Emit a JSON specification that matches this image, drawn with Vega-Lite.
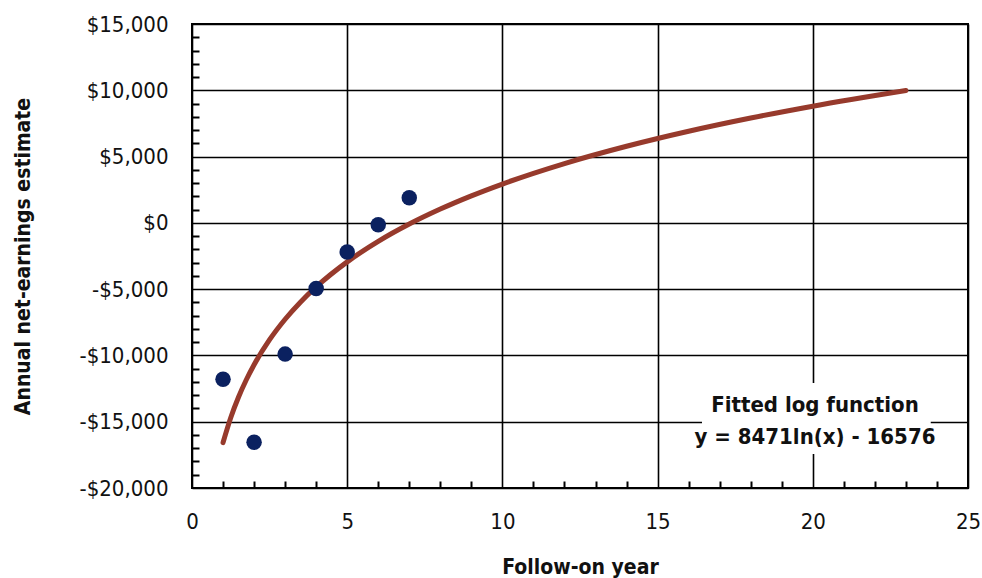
{
  "$schema": "https://vega.github.io/schema/vega-lite/v6.json",
  "width": 776,
  "height": 464,
  "autosize": {"type": "none"},
  "padding": {"left": 192, "top": 24, "right": 14, "bottom": 90},
  "background": "white",
  "config": {
    "view": {"stroke": "#000", "strokeWidth": 2},
    "font": "DejaVu Sans Condensed",
    "axis": {"domain": false, "labelColor": "#111", "titleColor": "#111", "labelFlush": false}
  },
  "datasets": {
    "obs": [
      {"year": 1, "earn": -11800},
      {"year": 2, "earn": -16550},
      {"year": 3, "earn": -9900},
      {"year": 4, "earn": -4950},
      {"year": 5, "earn": -2200},
      {"year": 6, "earn": -150},
      {"year": 7, "earn": 1900}
    ],
    "fit": [
      {"year": 1, "earn": -16576},
      {"year": 1.25, "earn": -14686},
      {"year": 1.5, "earn": -13141},
      {"year": 1.75, "earn": -11836},
      {"year": 2, "earn": -10704},
      {"year": 2.5, "earn": -8814},
      {"year": 3, "earn": -7270},
      {"year": 3.5, "earn": -5964},
      {"year": 4, "earn": -4833},
      {"year": 5, "earn": -2943},
      {"year": 6, "earn": -1398},
      {"year": 7, "earn": -92},
      {"year": 8, "earn": 1039},
      {"year": 9, "earn": 2037},
      {"year": 10, "earn": 2929},
      {"year": 12, "earn": 4474},
      {"year": 14, "earn": 5779},
      {"year": 16, "earn": 6911},
      {"year": 18, "earn": 7908},
      {"year": 20, "earn": 8801},
      {"year": 23, "earn": 9985}
    ],
    "box": [
      {"x1": 16.43, "x2": 23.8, "y1": -12080, "y2": -17435}
    ],
    "note": [
      {"year": 20.07, "earn": -13739, "label": "Fitted log function"},
      {"year": 20.07, "earn": -16153, "label": "y = 8471ln(x) - 16576"}
    ]
  },
  "resolve": {"axis": {"x": "independent", "y": "independent"}},
  "layer": [
    {
      "data": {"name": "fit"},
      "mark": {"type": "line", "color": "#973a2c", "strokeWidth": 5, "interpolate": "monotone", "strokeCap": "round"},
      "encoding": {
        "x": {"field": "year", "type": "quantitative", "scale": {"domain": [0, 25], "nice": false},
          "axis": {"orient": "bottom", "values": [1,2,3,4,6,7,8,9,11,12,13,14,16,17,18,19,21,22,23,24], "labels": false, "grid": false, "title": null, "tickSize": -7, "tickWidth": 2, "tickColor": "#000"}},
        "y": {"field": "earn", "type": "quantitative", "scale": {"domain": [-20000, 15000], "nice": false, "zero": false},
          "axis": {"orient": "left", "values": [-19000,-18000,-17000,-16000,-14000,-13000,-12000,-11000,-9000,-8000,-7000,-6000,-4000,-3000,-2000,-1000,1000,2000,3000,4000,6000,7000,8000,9000,11000,12000,13000,14000], "labels": false, "grid": false, "title": null, "tickSize": -7, "tickWidth": 2, "tickColor": "#000"}}
      }
    },
    {
      "data": {"name": "obs"},
      "mark": {"type": "point", "filled": true, "color": "#0b2160", "size": 240, "opacity": 1},
      "encoding": {
        "x": {"field": "year", "type": "quantitative",
          "axis": {"orient": "bottom", "values": [0, 5, 10, 15, 20, 25], "grid": true, "gridColor": "#000", "gridWidth": 1.6, "gridOpacity": 1, "ticks": false, "labelFontSize": 22, "labelPadding": 23, "title": "Follow-on year", "titleFontSize": 21, "titleFontWeight": "bold", "titlePadding": 24}},
        "y": {"field": "earn", "type": "quantitative",
          "axis": {"orient": "left", "values": [-20000, -15000, -10000, -5000, 0, 5000, 10000, 15000], "grid": true, "gridColor": "#000", "gridWidth": 1.6, "gridOpacity": 1, "ticks": false, "labelFontSize": 22, "labelPadding": 24,
            "labelExpr": "datum.value < 0 ? '-$' + format(-datum.value, ',') : '$' + format(datum.value, ',')",
            "title": "Annual net-earnings estimate", "titleFontSize": 21, "titleFontWeight": "bold", "titlePadding": 46}}
      }
    },
    {
      "data": {"name": "box"},
      "mark": {"type": "rect", "fill": "white"},
      "encoding": {
        "x": {"field": "x1", "type": "quantitative", "axis": null},
        "x2": {"field": "x2"},
        "y": {"field": "y1", "type": "quantitative", "axis": null},
        "y2": {"field": "y2"}
      }
    },
    {
      "data": {"name": "note"},
      "mark": {"type": "text", "fontSize": 22, "fontWeight": "bold", "align": "center", "baseline": "middle", "color": "#111"},
      "encoding": {
        "x": {"field": "year", "type": "quantitative", "axis": null},
        "y": {"field": "earn", "type": "quantitative", "axis": null},
        "text": {"field": "label"}
      }
    }
  ]
}
